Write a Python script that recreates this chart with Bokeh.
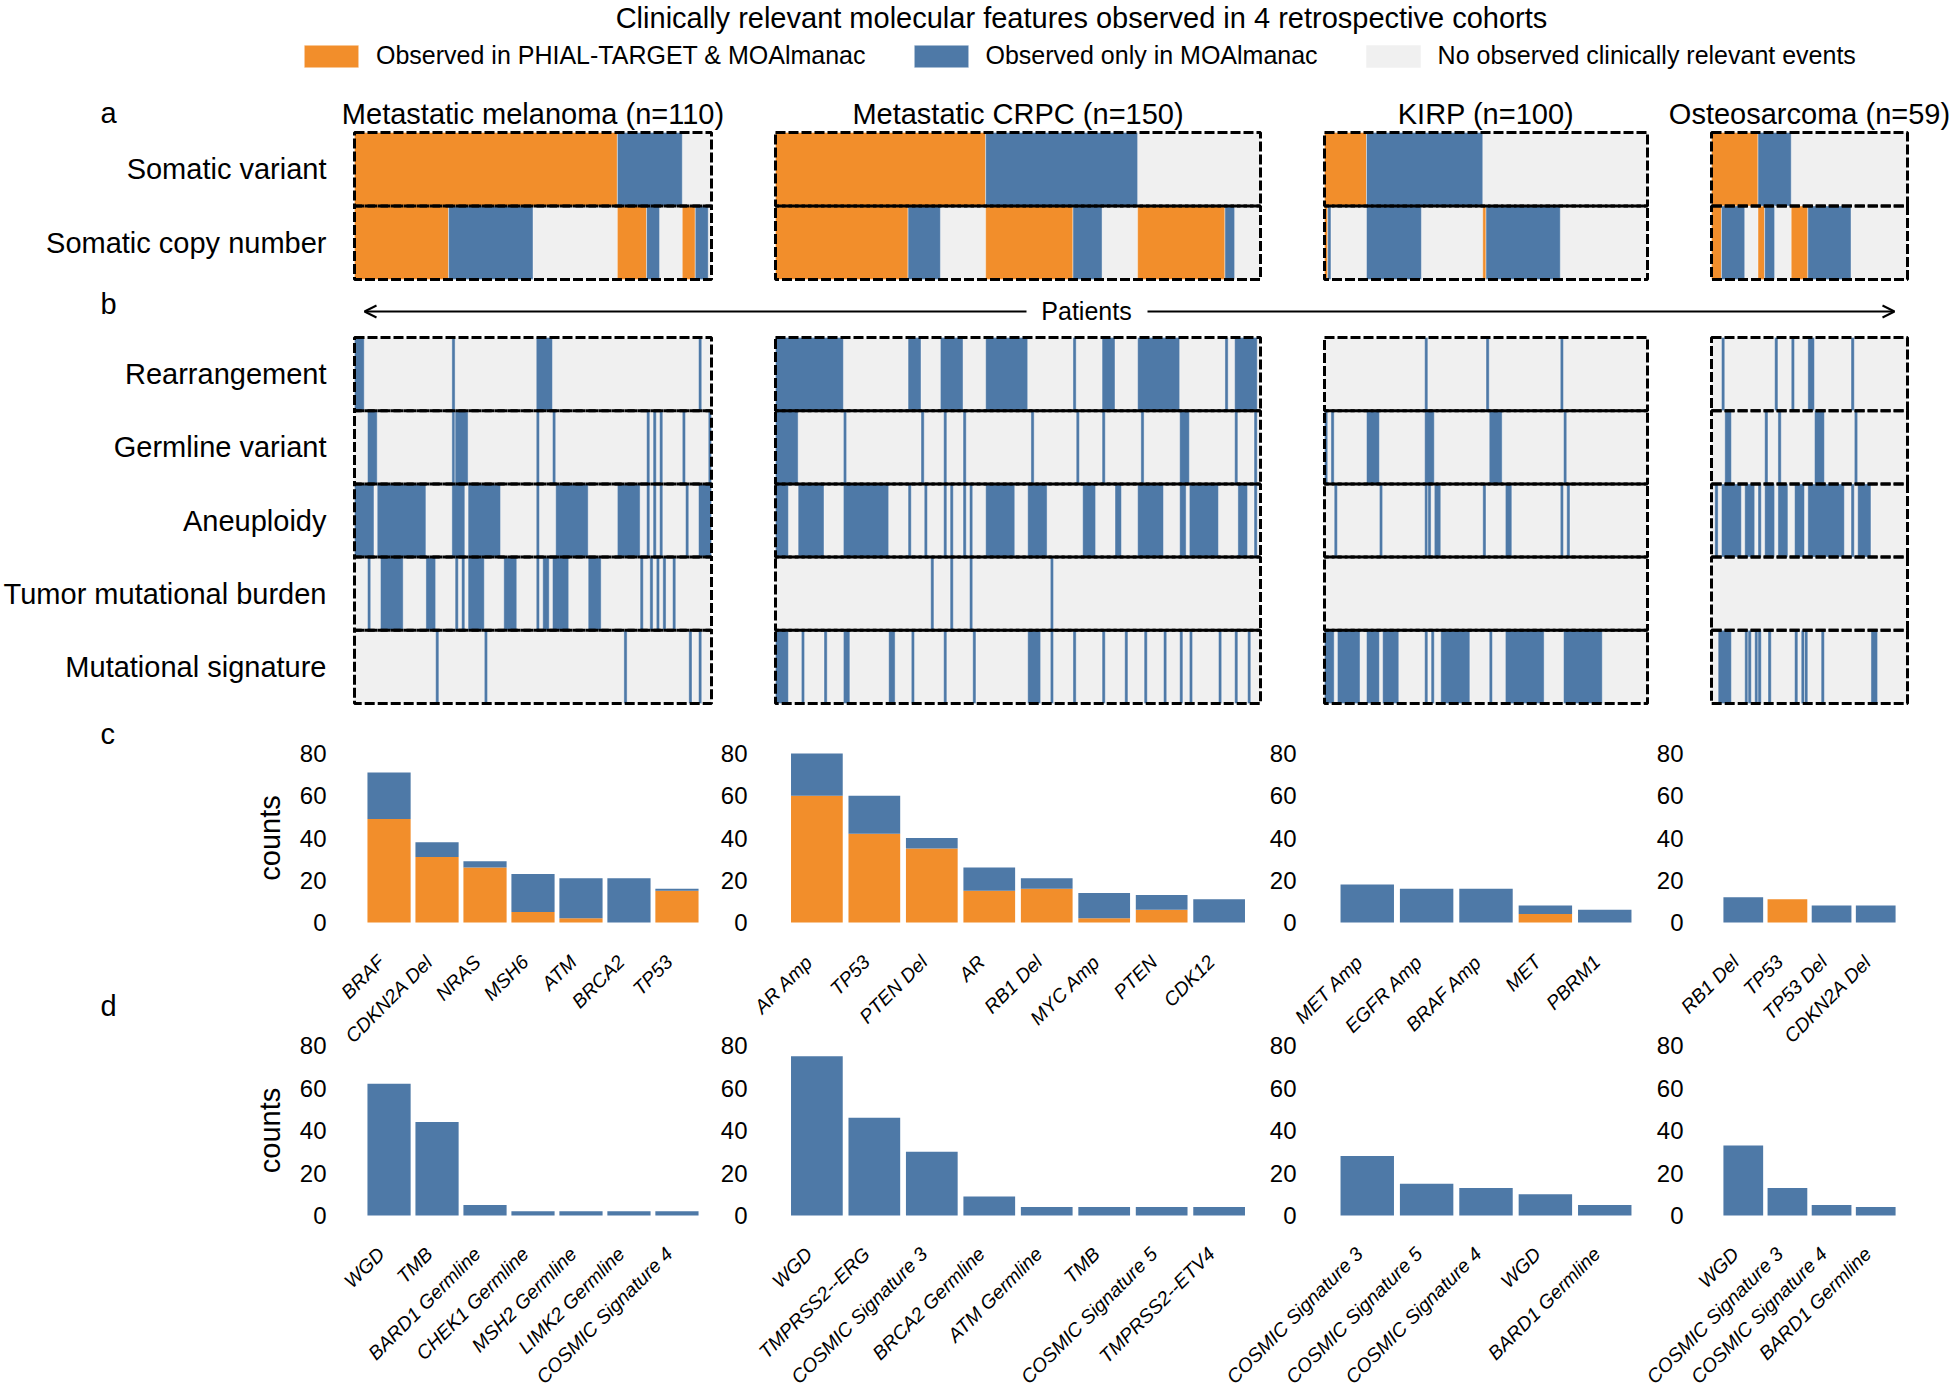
from math import pi
from bokeh.plotting import figure
from bokeh.models import Range1d, Legend, LegendItem, Arrow, OpenHead
from bokeh.core.properties import value
from bokeh.embed import file_html
from bokeh.resources import INLINE

# ---------------------------------------------------------------- texts
TITLE = "Clinically relevant molecular features observed in 4 retrospective cohorts"
LEGEND_LABELS = ["Observed in PHIAL-TARGET & MOAlmanac",
                 "Observed only in MOAlmanac",
                 "No observed clinically relevant events"]
COHORT_NAMES = ["Metastatic melanoma", "Metastatic CRPC", "KIRP", "Osteosarcoma"]
COHORT_N = [110, 150, 100, 59]
ROWS_A = ["Somatic variant", "Somatic copy number"]
ROWS_B = ["Rearrangement", "Germline variant", "Aneuploidy",
          "Tumor mutational burden", "Mutational signature"]
PANEL_LETTERS = ["a", "b", "c", "d"]
ARROW_LABEL = "Patients"
Y_LABEL = "counts"
Y_TICKS = [0, 20, 40, 60, 80]

# ------------------------------------------- panel a/b: patient runs [start, end)
# "BOTH" = observed in PHIAL-TARGET & MOAlmanac, otherwise observed only in MOAlmanac
MEL_SV_BOTH = [(0, 81)]
MEL_SV_MOA = [(81, 101)]
MEL_CN_BOTH = [(0, 29), (81, 90), (101, 105)]
MEL_CN_MOA = [(29, 55), (90, 94), (105, 109)]
MEL_REARR = [(0, 3), (30, 31), (56, 61), (106, 107)]
MEL_GERM = [(4, 7), (30, 31), (31, 35), (56, 57), (61, 62), (90, 91), (92, 93),
            (94, 95), (101, 102), (109, 110)]
MEL_ANEU = [(0, 6), (7, 22), (30, 34), (35, 45), (56, 57), (62, 72), (81, 88),
            (90, 91), (92, 93), (94, 95), (102, 103), (106, 110)]
MEL_TMB = [(4, 5), (8, 15), (22, 25), (31, 32), (33, 34), (35, 40), (46, 50),
           (56, 57), (58, 60), (61, 66), (72, 76), (88, 89), (91, 92), (93, 94),
           (95, 96), (98, 99)]
MEL_SIG = [(25, 26), (40, 41), (83, 84), (103, 104), (106, 107)]

CRPC_SV_BOTH = [(0, 65)]
CRPC_SV_MOA = [(65, 112)]
CRPC_CN_BOTH = [(0, 41), (65, 92), (112, 139)]
CRPC_CN_MOA = [(41, 51), (92, 101), (139, 142)]
CRPC_REARR = [(0, 21), (41, 45), (51, 58), (65, 78), (92, 93), (101, 105),
              (112, 125), (139, 140), (142, 149)]
CRPC_GERM = [(0, 7), (21, 22), (45, 46), (52, 53), (58, 59), (79, 80), (93, 94),
             (101, 102), (113, 114), (125, 128), (142, 143), (148, 149)]
CRPC_ANEU = [(0, 4), (7, 15), (21, 35), (41, 42), (46, 47), (52, 53), (54, 55),
             (58, 59), (60, 61), (65, 74), (78, 84), (95, 99), (105, 107),
             (112, 120), (125, 127), (128, 137), (143, 146), (148, 149)]
CRPC_TMB = [(48, 49), (54, 55), (60, 61), (85, 86)]
CRPC_SIG = [(0, 4), (8, 9), (15, 16), (21, 23), (35, 37), (42, 43), (52, 53),
            (61, 62), (78, 82), (85, 86), (92, 93), (101, 102), (108, 109),
            (114, 115), (120, 121), (125, 126), (128, 129), (137, 138),
            (142, 143), (146, 147)]

KIRP_SV_BOTH = [(0, 13)]
KIRP_SV_MOA = [(13, 49)]
KIRP_CN_BOTH = [(0, 1), (49, 50)]
KIRP_CN_MOA = [(1, 2), (13, 30), (50, 73)]
KIRP_REARR = [(31, 32), (50, 51), (73, 74)]
KIRP_GERM = [(0, 1), (2, 3), (13, 17), (31, 34), (51, 55), (74, 75)]
KIRP_ANEU = [(3, 4), (17, 18), (31, 32), (32, 33), (34, 36), (49, 50), (56, 58),
             (73, 74), (75, 76)]
KIRP_TMB = []
KIRP_SIG = [(0, 3), (4, 11), (13, 17), (18, 23), (31, 32), (33, 34), (36, 45),
            (51, 52), (56, 68), (74, 86)]

OST_SV_BOTH = [(0, 14)]
OST_SV_MOA = [(14, 24)]
OST_CN_BOTH = [(0, 3), (14, 16), (24, 29)]
OST_CN_MOA = [(3, 10), (16, 19), (29, 42)]
OST_REARR = [(3, 4), (19, 20), (24, 25), (29, 31), (42, 43)]
OST_GERM = [(4, 6), (16, 17), (20, 21), (31, 34), (43, 44)]
OST_ANEU = [(1, 2), (3, 9), (10, 13), (14, 15), (16, 19), (20, 23), (25, 28),
            (29, 40), (42, 43), (44, 48)]
OST_TMB = []
OST_SIG = [(2, 6), (10, 11), (11, 12), (13, 14), (14, 15), (17, 18), (25, 26),
           (27, 28), (28, 29), (33, 34), (48, 50)]

# ------------------------------------------------ panel c: clinically relevant genes
MEL_C_GENES = ["BRAF", "CDKN2A Del", "NRAS", "MSH6", "ATM", "BRCA2", "TP53"]
MEL_C_BOTH = [49, 31, 26, 5, 2, 0, 15]
MEL_C_TOTAL = [71, 38, 29, 23, 21, 21, 16]
CRPC_C_GENES = ["AR Amp", "TP53", "PTEN Del", "AR", "RB1 Del", "MYC Amp", "PTEN", "CDK12"]
CRPC_C_BOTH = [60, 42, 35, 15, 16, 2, 6, 0]
CRPC_C_TOTAL = [80, 60, 40, 26, 21, 14, 13, 11]
KIRP_C_GENES = ["MET Amp", "EGFR Amp", "BRAF Amp", "MET", "PBRM1"]
KIRP_C_BOTH = [0, 0, 0, 4, 0]
KIRP_C_TOTAL = [18, 16, 16, 8, 6]
OST_C_GENES = ["RB1 Del", "TP53", "TP53 Del", "CDKN2A Del"]
OST_C_BOTH = [0, 11, 0, 0]
OST_C_TOTAL = [12, 11, 8, 8]

# ------------------------------------------------ panel d: other features (MOAlmanac)
MEL_D_FEATS = ["WGD", "TMB", "BARD1 Germline", "CHEK1 Germline", "MSH2 Germline",
               "LIMK2 Germline", "COSMIC Signature 4"]
MEL_D_COUNTS = [62, 44, 5, 2, 2, 2, 2]
CRPC_D_FEATS = ["WGD", "TMPRSS2--ERG", "COSMIC Signature 3", "BRCA2 Germline",
                "ATM Germline", "TMB", "COSMIC Signature 5", "TMPRSS2--ETV4"]
CRPC_D_COUNTS = [75, 46, 30, 9, 4, 4, 4, 4]
KIRP_D_FEATS = ["COSMIC Signature 3", "COSMIC Signature 5", "COSMIC Signature 4",
                "WGD", "BARD1 Germline"]
KIRP_D_COUNTS = [28, 15, 13, 10, 5]
OST_D_FEATS = ["WGD", "COSMIC Signature 3", "COSMIC Signature 4", "BARD1 Germline"]
OST_D_COUNTS = [33, 13, 5, 4]

# grouping (built from the named arrays above)
A_BOTH = [[MEL_SV_BOTH, MEL_CN_BOTH], [CRPC_SV_BOTH, CRPC_CN_BOTH],
          [KIRP_SV_BOTH, KIRP_CN_BOTH], [OST_SV_BOTH, OST_CN_BOTH]]
A_MOA = [[MEL_SV_MOA, MEL_CN_MOA], [CRPC_SV_MOA, CRPC_CN_MOA],
         [KIRP_SV_MOA, KIRP_CN_MOA], [OST_SV_MOA, OST_CN_MOA]]
B_MOA = [[MEL_REARR, MEL_GERM, MEL_ANEU, MEL_TMB, MEL_SIG],
         [CRPC_REARR, CRPC_GERM, CRPC_ANEU, CRPC_TMB, CRPC_SIG],
         [KIRP_REARR, KIRP_GERM, KIRP_ANEU, KIRP_TMB, KIRP_SIG],
         [OST_REARR, OST_GERM, OST_ANEU, OST_TMB, OST_SIG]]
C_GENES = [MEL_C_GENES, CRPC_C_GENES, KIRP_C_GENES, OST_C_GENES]
C_BOTH = [MEL_C_BOTH, CRPC_C_BOTH, KIRP_C_BOTH, OST_C_BOTH]
C_TOTAL = [MEL_C_TOTAL, CRPC_C_TOTAL, KIRP_C_TOTAL, OST_C_TOTAL]
D_FEATS = [MEL_D_FEATS, CRPC_D_FEATS, KIRP_D_FEATS, OST_D_FEATS]
D_COUNTS = [MEL_D_COUNTS, CRPC_D_COUNTS, KIRP_D_COUNTS, OST_D_COUNTS]

# ---------------------------------------------------------------- style / layout
FONT = "Liberation Sans"
ORANGE = "#F28E2B"
BLUE = "#4E79A7"
GREY = "#F0F0F0"
W, H = 1952, 1391
BOX_X = [(354, 711), (775, 1260), (1324, 1647), (1711, 1907)]
A_Y = (132, 279)
B_Y = (337, 703)
C_Y = (922, 753)              # pixel of value 0 and value 80
D_Y = (1215, 1045)
BAR_PAD = 0.72
BAR_W = 0.9
XLAB_SIZE = "19.5px"


def xr(p1, d1, p2, d2):
    k = (d2 - d1) / (p2 - p1)
    return Range1d(start=d1 + (0 - p1) * k, end=d1 + (W - p1) * k)


def yr(p1, d1, p2, d2):
    k = (d2 - d1) / (p2 - p1)
    return Range1d(start=d1 + (H - p1) * k, end=d1 + (0 - p1) * k)


p = figure(width=W, height=H, output_backend="svg", toolbar_location=None,
           x_axis_type=None, y_axis_type=None,
           x_range=Range1d(0, W), y_range=Range1d(H, 0),
           min_border=0, outline_line_color=None)

p.extra_y_ranges["ya"] = yr(A_Y[0], -0.5, A_Y[1], len(ROWS_A) - 0.5)
p.extra_y_ranges["yb"] = yr(B_Y[0], -0.5, B_Y[1], len(ROWS_B) - 0.5)
p.extra_y_ranges["yc"] = yr(C_Y[0], 0, C_Y[1], 80)
p.extra_y_ranges["yd"] = yr(D_Y[0], 0, D_Y[1], 80)


def txt(x, y, text, size, xname="default", yname="default", **kw):
    return p.text(x=x, y=y, text=text, x_range_name=xname, y_range_name=yname,
                  text_font=value(FONT), text_font_size=size, text_color="black", **kw)


def runs(rows):
    ys, ls, rs = [], [], []
    for r, segs in enumerate(rows):
        for s, e in segs:
            ys.append(r)
            ls.append(s)
            rs.append(e)
    return ys, ls, rs


# main title
txt([1081], [17], [TITLE], "29px", text_align="center", text_baseline="middle")

legend_r = {}
for k, (L, R) in enumerate(BOX_X):
    n = COHORT_N[k]
    hx = f"h{k}"
    p.extra_x_ranges[hx] = xr(L, 0, R, n)
    for yname, rows in (("ya", ROWS_A), ("yb", ROWS_B)):
        rid = list(range(len(rows)))
        g = p.hbar(y=rid, left=0, right=n, height=1, fill_color=GREY, line_color=None,
                   x_range_name=hx, y_range_name=yname)
        if yname == "ya":
            legend_r.setdefault("grey", g)
            ys, ls, rs = runs(A_BOTH[k])
            o = p.hbar(y=ys, left=ls, right=rs, height=1, fill_color=ORANGE,
                       line_color="white", line_width=0.6, line_alpha=0.7,
                       x_range_name=hx, y_range_name=yname)
            legend_r.setdefault("orange", o)
            ys, ls, rs = runs(A_MOA[k])
        else:
            ys, ls, rs = runs(B_MOA[k])
        b = p.hbar(y=ys, left=ls, right=rs, height=1, fill_color=BLUE,
                   line_color="white", line_width=0.6, line_alpha=0.7,
                   x_range_name=hx, y_range_name=yname)
        legend_r.setdefault("blue", b)
        p.hbar(y=rid, left=0, right=n, height=1, fill_color=None, line_color="black",
               line_width=3, line_dash="10 3", x_range_name=hx, y_range_name=yname)
    # cohort title
    txt([n / 2], [-0.5], [f"{COHORT_NAMES[k]} (n={n})"], "29px", hx, "ya",
        text_align="center", text_baseline="middle", y_offset=-19)

    # bar panels c and d
    nb = len(C_GENES[k])
    cx = f"c{k}"
    p.extra_x_ranges[cx] = xr(L, -BAR_PAD, R, nb - 1 + BAR_PAD)
    xs = list(range(nb))
    p.vbar(x=xs, bottom=0, top=C_BOTH[k], width=BAR_W, fill_color=ORANGE, line_color=None,
           x_range_name=cx, y_range_name="yc")
    p.vbar(x=xs, bottom=C_BOTH[k], top=C_TOTAL[k], width=BAR_W, fill_color=BLUE,
           line_color=None, x_range_name=cx, y_range_name="yc")
    txt(-BAR_PAD, Y_TICKS, [str(t) for t in Y_TICKS], "24px", cx, "yc",
        text_align="right", text_baseline="middle", x_offset=-28)
    txt(xs, 0, C_GENES[k], XLAB_SIZE, cx, "yc", angle=pi / 4, text_align="right",
        text_baseline="middle", text_font_style="italic", x_offset=-8, y_offset=36)

    nd = len(D_FEATS[k])
    dx = f"d{k}"
    p.extra_x_ranges[dx] = xr(L, -BAR_PAD, R, nd - 1 + BAR_PAD)
    xs = list(range(nd))
    p.vbar(x=xs, bottom=0, top=D_COUNTS[k], width=BAR_W, fill_color=BLUE, line_color=None,
           x_range_name=dx, y_range_name="yd")
    txt(-BAR_PAD, Y_TICKS, [str(t) for t in Y_TICKS], "24px", dx, "yd",
        text_align="right", text_baseline="middle", x_offset=-28)
    txt(xs, 0, D_FEATS[k], XLAB_SIZE, dx, "yd", angle=pi / 4, text_align="right",
        text_baseline="middle", text_font_style="italic", x_offset=-8, y_offset=35)

# row labels (left of the first cohort)
txt(0, list(range(len(ROWS_A))), ROWS_A, "29px", "h0", "ya",
    text_align="right", text_baseline="middle", x_offset=-28)
txt(0, list(range(len(ROWS_B))), ROWS_B, "29px", "h0", "yb",
    text_align="right", text_baseline="middle", x_offset=-28)

# y axis titles
txt([269], [40], [Y_LABEL], "29px", "default", "yc", angle=pi / 2,
    text_align="center", text_baseline="middle")
txt([269], [40], [Y_LABEL], "29px", "default", "yd", angle=pi / 2,
    text_align="center", text_baseline="middle")

# panel letters
txt([100, 100, 100, 100], [112, 303, 733, 1005], PANEL_LETTERS, "29px",
    text_align="left", text_baseline="middle")

# Patients arrow
txt([1086], [310], [ARROW_LABEL], "25px", text_align="center", text_baseline="middle")
p.add_layout(Arrow(x_start=1026, y_start=311, x_end=364, y_end=311, line_width=2,
                   line_color="black",
                   end=OpenHead(size=12, line_width=2, line_color="black")))
p.add_layout(Arrow(x_start=1147, y_start=311, x_end=1894, y_end=311, line_width=2,
                   line_color="black",
                   end=OpenHead(size=12, line_width=2, line_color="black")))

# legend (area glyphs are drawn at 80 % of the glyph box)
legend = Legend(items=[LegendItem(label=LEGEND_LABELS[0], renderers=[legend_r["orange"]]),
                       LegendItem(label=LEGEND_LABELS[1], renderers=[legend_r["blue"]]),
                       LegendItem(label=LEGEND_LABELS[2], renderers=[legend_r["grey"]])],
                orientation="horizontal", location=(297, H - 70),
                glyph_width=68, glyph_height=28, label_standoff=11, spacing=41,
                padding=0, margin=0, border_line_color=None, background_fill_alpha=0,
                label_text_font=FONT, label_text_font_size="25px",
                label_text_color="black", label_height=22)
p.add_layout(legend)

open("out.html", "w").write(file_html(p, INLINE))
